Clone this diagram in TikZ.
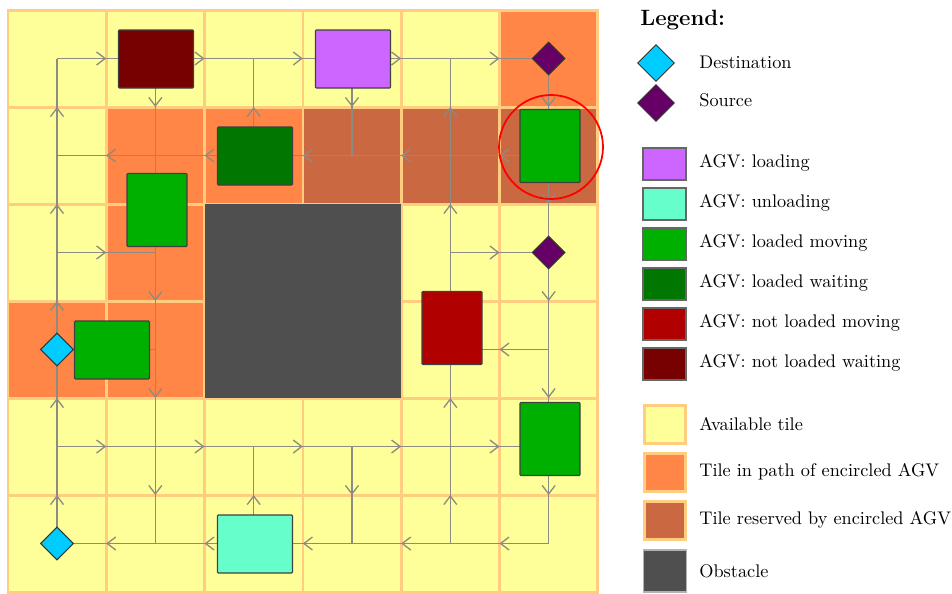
\documentclass[tikz,border=0pt]{standalone}
\usepackage{tikz}
\usetikzlibrary{shapes.geometric, arrows.meta, decorations.markings}
\definecolor{tileyellow}{HTML}{FFFF99}
\definecolor{tileedge}{HTML}{FFCC80}
\definecolor{tilepath}{HTML}{FF8646}
\definecolor{tileres}{HTML}{CA6841}
\definecolor{obstaclegray}{HTML}{4F4F4F}
\definecolor{lanegray}{HTML}{8C8C82}
\definecolor{agvloading}{HTML}{CC66FF}
\definecolor{agvunloading}{HTML}{66FFCC}
\definecolor{agvloadmove}{HTML}{00B000}
\definecolor{agvloadwait}{HTML}{007700}
\definecolor{agvemptymove}{HTML}{B00000}
\definecolor{agvemptywait}{HTML}{770000}
\definecolor{destcol}{HTML}{00CCFF}
\definecolor{srccol}{HTML}{660066}
\tikzset{
  tile/.style={draw=tileedge, line width=1.7pt},
  lane/.style={color=lanegray, draw, line width=0.75pt, postaction={decorate},
               decoration={markings, mark=at position 0.5 with
               {\arrow{Straight Barb[length=1.7mm,width=2.6mm]}}}},
  agvh/.style={rectangle, draw=black!75, line width=0.6pt, inner sep=0pt,
               minimum width=1.5cm, minimum height=1.16cm, rounded corners=0.5pt},
  agvv/.style={rectangle, draw=black!75, line width=0.6pt, inner sep=0pt,
               minimum width=1.2cm, minimum height=1.46cm, rounded corners=0.5pt},
  station/.style={diamond, draw=black!80, line width=0.6pt, inner sep=0pt,
                  minimum width=0.66cm, minimum height=0.66cm},
  legdiamond/.style={diamond, draw=black!80, line width=0.5pt, inner sep=0pt,
                     minimum width=0.74cm, minimum height=0.74cm},
  legbox/.style={rectangle, draw=black!60, line width=0.6pt, inner sep=0pt,
                 minimum width=0.86cm, minimum height=0.64cm},
  legtile/.style={rectangle, draw=tileedge, line width=1.7pt, inner sep=0pt,
                  minimum width=0.82cm, minimum height=0.76cm},
  legtext/.style={anchor=west, inner sep=0pt, font=\fontsize{10.4pt}{12pt}\selectfont},
}

\begin{document}
\begin{tikzpicture}[x=0.02cm, y=-0.02cm]
  \useasboundingbox (0,0) rectangle (952,593);
  % tiles
  \foreach \i in {0,...,5} {
    \foreach \j in {0,...,5} {
      \draw[tile, fill=tileyellow] ({8+98.33*\i},{10+97*\j}) rectangle ++(98.33,97);
    }
  }
  \foreach \i/\j in {5/0, 1/1, 2/1, 1/2, 0/3, 1/3} {
    \draw[tile, fill=tilepath] ({8+98.33*\i},{10+97*\j}) rectangle ++(98.33,97);
  }
  \foreach \i/\j in {3/1, 4/1, 5/1} {
    \draw[tile, fill=tileres] ({8+98.33*\i},{10+97*\j}) rectangle ++(98.33,97);
  }
  \fill[obstaclegray] ({8+98.33*2},{10+97*2}) rectangle ({8+98.33*4},{10+97*4});

  % lanes
  \foreach \i in {0,...,5} {
    \foreach \j in {0,...,5} {
      \coordinate (p-\i-\j) at ({57+98.33*\i},{58.5+97*\j});
    }
  }
  \foreach \i [count=\k from 1] in {0,...,4} {
    \draw[lane] (p-\i-0) -- (p-\k-0);
    \draw[lane] (p-\k-1) -- (p-\i-1);
    \draw[lane] (p-\i-4) -- (p-\k-4);
    \draw[lane] (p-\k-5) -- (p-\i-5);
    \draw[lane] (p-0-\k) -- (p-0-\i);
    \draw[lane] (p-1-\i) -- (p-1-\k);
    \draw[lane] (p-4-\k) -- (p-4-\i);
    \draw[lane] (p-5-\i) -- (p-5-\k);
  }
  \draw[lane] (p-0-2) -- (p-1-2);
  \draw[lane] (p-4-2) -- (p-5-2);
  \draw[lane] (p-1-3) -- (p-0-3);
  \draw[lane] (p-5-3) -- (p-4-3);
  \draw[lane] (p-2-1) -- (p-2-0);
  \draw[lane] (p-2-5) -- (p-2-4);
  \draw[lane] (p-3-0) -- (p-3-1);
  \draw[lane] (p-3-4) -- (p-3-5);

  % stations
  \node[station, fill=srccol] (src-a) at (p-5-0) {};
  \node[station, fill=srccol] (src-b) at (p-5-2) {};
  \node[station, fill=destcol] (dst-a) at (p-0-3) {};
  \node[station, fill=destcol] (dst-b) at (p-0-5) {};

  % vehicles
  \node[agvh, fill=agvemptywait] (agv-ew) at (156,59) {};
  \node[agvh, fill=agvloading] (agv-ld) at (353,59) {};
  \node[agvh, fill=agvloadwait] (agv-lw) at (255,156) {};
  \node[agvv, fill=agvloadmove] (agv-lm1) at (157,210) {};
  \node[agvv, fill=agvloadmove] (agv-circ) at (550,146) {};
  \node[agvh, fill=agvloadmove] (agv-lm2) at (112,350) {};
  \node[agvv, fill=agvemptymove] (agv-em) at (452,328) {};
  \node[agvv, fill=agvloadmove] (agv-lm3) at (550,439) {};
  \node[agvh, fill=agvunloading] (agv-ul) at (255,544) {};
  \node[circle, draw=red, line width=1pt, minimum size=2.08cm] (ring) at (551,147) {};

  % legend
  \node[legtext, font=\fontsize{12.6pt}{15pt}\selectfont\bfseries] (leg-title) at (640,20) {Legend:};
  \node[legdiamond, fill=destcol] (leg-dst) at (656,63) {};
  \node[legtext] (leg-dst-t) at (699,62) {Destination};
  \node[legdiamond, fill=srccol] (leg-src) at (656,103) {};
  \node[legtext] (leg-src-t) at (699,100) {Source};
  \foreach \c/\y/\t [count=\n] in {agvloading/164/loading, agvunloading/204/unloading,
      agvloadmove/244/loaded moving, agvloadwait/284/loaded waiting,
      agvemptymove/324/not loaded moving, agvemptywait/364/not loaded waiting} {
    \node[legbox, fill=\c] (leg-agv-\n) at (664.5,\y) {};
    \node[legtext] (leg-agv-t-\n) at (699,\y-1) {AGV: \t};
  }
  \foreach \c/\y/\t [count=\n] in {tileyellow/424/Available tile,
      tilepath/472/Tile in path of encircled AGV,
      tileres/520/Tile reserved by encircled AGV} {
    \node[legtile, fill=\c] (leg-tile-\n) at (665,\y) {};
    \node[legtext] (leg-tile-t-\n) at (699,\y) {\t};
  }
  \node[rectangle, draw=gray!60, fill=obstaclegray, line width=0.6pt, inner sep=0pt,
        minimum width=0.86cm, minimum height=0.84cm] (leg-obs) at (665,571) {};
  \node[legtext] (leg-obs-t) at (699,571) {Obstacle};
\end{tikzpicture}
\end{document}
